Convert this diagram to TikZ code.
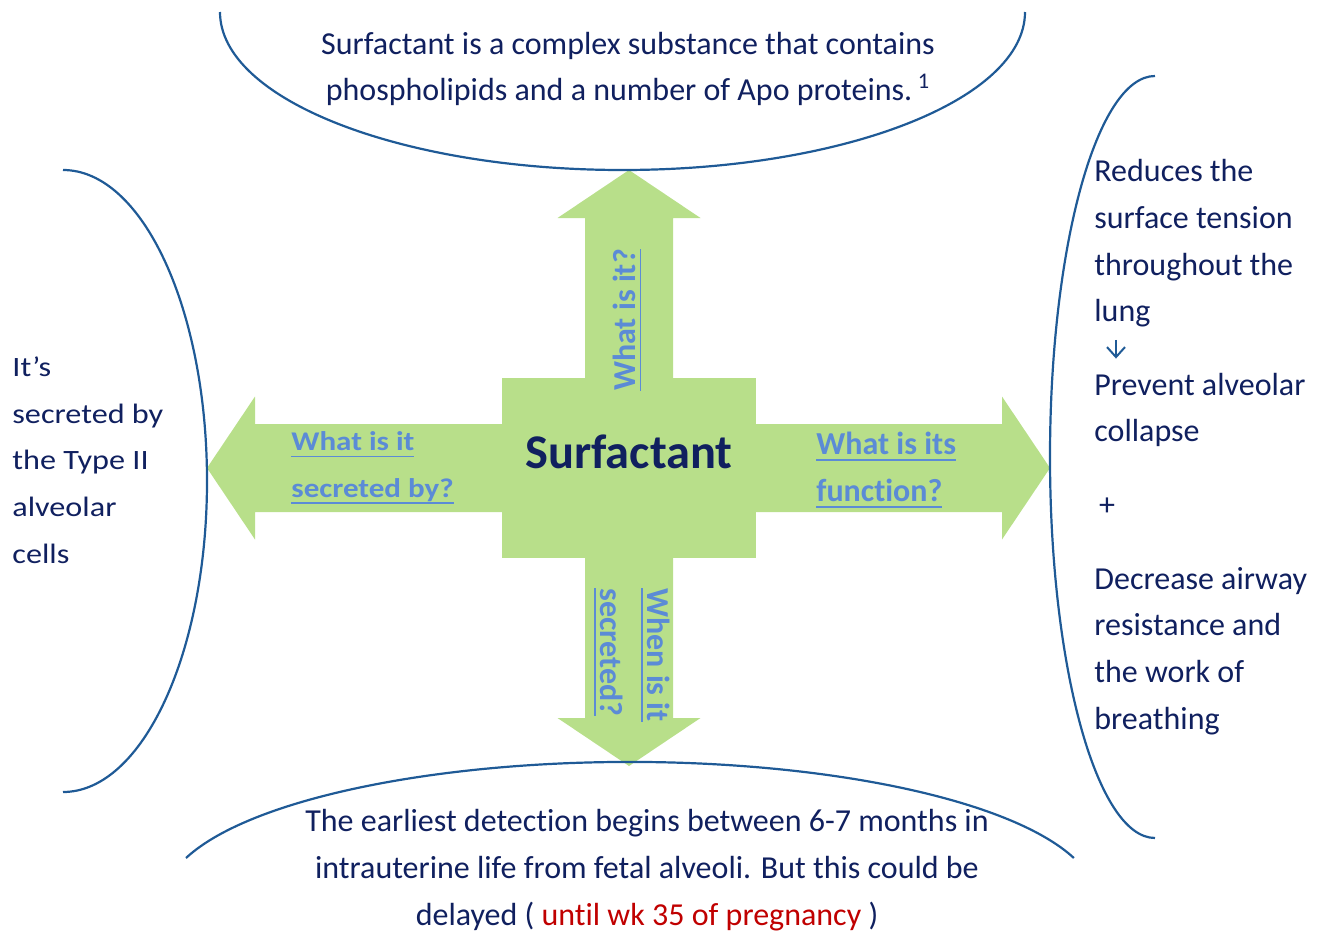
\documentclass[tikz,border=0pt]{standalone}
\usepackage{fontspec}
\setmainfont{Carlito}[Ligatures=NoCommon]
\newfontfamily\widefont[FakeStretch=1.15,Ligatures=NoCommon]{Carlito}
\usepackage{xcolor}
\usetikzlibrary{arrows.meta}
\definecolor{navy}{HTML}{10205F}
\definecolor{rim}{HTML}{1F5A96}
\definecolor{leaf}{HTML}{B8DF8A}
\definecolor{askblue}{HTML}{5B8BD6}
\definecolor{wkred}{HTML}{C00000}
% underlined question text, with a heavier rule than \underline
\newcommand\askline[1]{\setbox0\hbox{#1}\leavevmode\rlap{\rule[-3.2pt]{\wd0}{.9pt}}\box0}
\tikzset{
  >={Straight Barb[length=5pt,width=9pt]},
}
\tikzstyle{rimline}=[rim,line width=1.1pt]
\tikzstyle{every node}=[inner sep=0pt,text=navy,font=\fontsize{16}{23.35}\selectfont]
\tikzstyle{ask}=[text=askblue,font=\fontsize{16}{23.35}\selectfont\bfseries,align=left]
\tikzstyle{widetext}=[font=\widefont\fontsize{14}{23.35}\selectfont,align=left]

\begin{document}
\begin{tikzpicture}[x=.5pt,y=-.5pt]
  \useasboundingbox (0,0) rectangle (1318,932);
  % green cross: one arrow per side, then the middle block
  \foreach \a/\l in {0/421,90/298,180/422,270/298}
    \fill[leaf,shift={(629,468)},rotate=\a] (0,-44) -- (\l-48,-44) -- (\l-48,-71.5)
      -- (\l,0) -- (\l-48,71.5) -- (\l-48,44) -- (0,44) -- cycle;
  \node[fill=leaf,minimum width=127pt,minimum height=90pt] (hub) at (629,468) {};
  \node[font=\fontsize{24.2}{28}\selectfont\bfseries] (surf) at (629,452) {Surfactant};

  % questions on the arrows
  \node[ask,rotate=90] (what) at (627,320) {\askline{What is it?}};
  \node[ask,rotate=-90,anchor=west] (when) at (632,588) {\askline{When is it}\\\askline{secreted?}};
  \node[ask,font=\widefont\fontsize{13.5}{23.35}\selectfont\bfseries,anchor=west] (by) at (291,468)
    {\askline{What is it}\\\askline{secreted by?}};
  \node[ask,anchor=west] (func) at (816,470) {\askline{What is its}\\\askline{function?}};

  % answers
  \node[align=center] (what-text) at (628,69)
    {Surfactant is a complex substance that contains\\phospholipids and a number of Apo proteins.\,\textsuperscript{1}};
  \node[widetext,anchor=west] (by-text) at (12,460) {It’s\\secreted by\\the Type II\\alveolar\\cells};
  \node[align=center] (when-text) at (647,870)
    {The earliest detection begins between 6-7 months in\\intrauterine life from fetal alveoli. But this could be\\delayed ( \textcolor{wkred}{until wk 35 of pregnancy} )};
  \node[align=left,anchor=west] (fn1) at (1094,243.5) {Reduces the\\surface tension\\throughout the\\lung};
  \node[align=left,anchor=west] (fn2) at (1094,410) {Prevent alveolar\\collapse};
  \node (plus) at (1107,507) {+};
  \node[align=left,anchor=west] (fn3) at (1094,651) {Decrease airway\\resistance and\\the work of\\breathing};
  \draw[rim,line width=1pt,->,shorten <=6pt,shorten >=7pt] ([xshift=11pt]fn1.south west) -- ([xshift=11pt]fn2.north west);

  % brackets round the answers
  \draw[rimline] (220,12) arc[start angle=180,end angle=0,x radius=402.5,y radius=158];
  \draw[rimline] (186,858) arc[start angle=197.7,end angle=342.3,x radius=466,y radius=138];
  \draw[rimline] (63,170) arc[start angle=-90,end angle=90,x radius=144,y radius=311];
  \draw[rimline] (1155,76) arc[start angle=270,end angle=90,x radius=105,y radius=381];
\end{tikzpicture}
\end{document}
